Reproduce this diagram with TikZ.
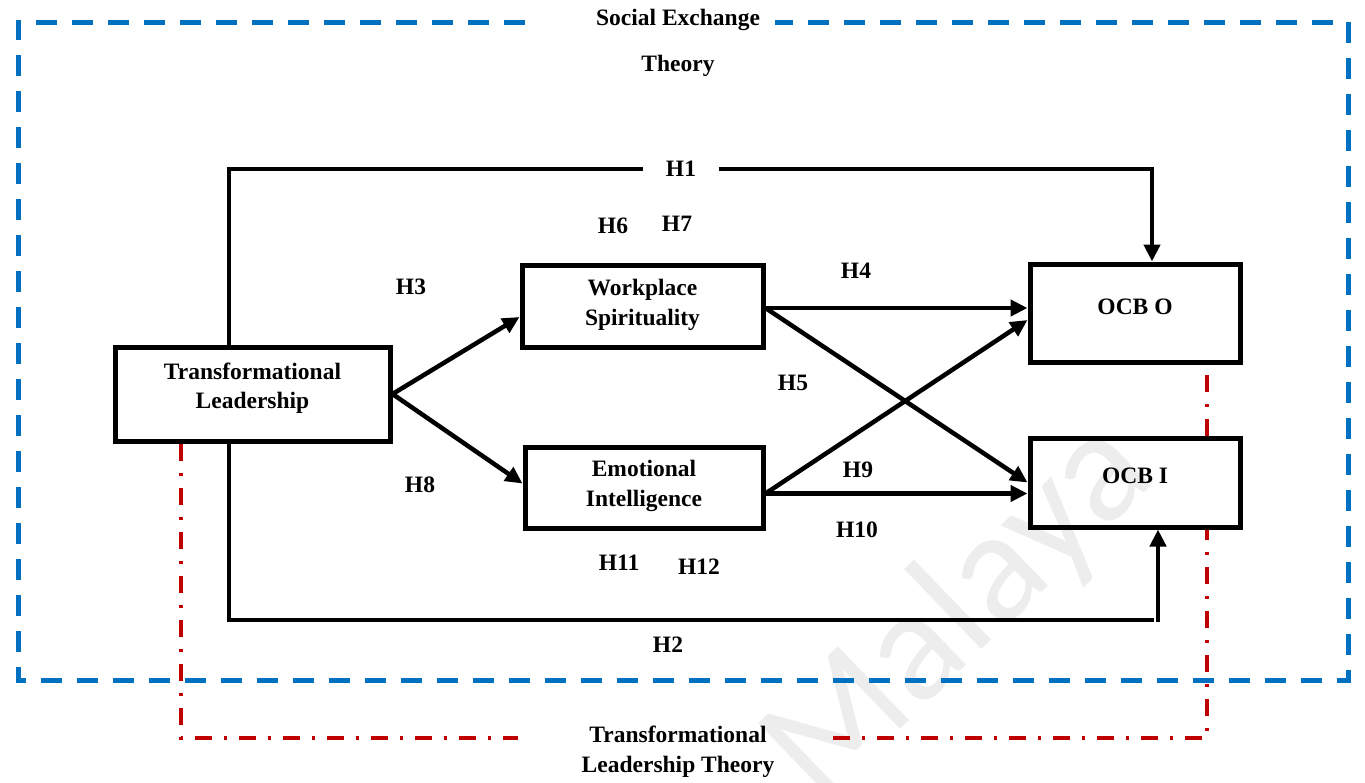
\documentclass[tikz,border=0pt]{standalone}
\usepackage{fontspec}
\setmainfont{Liberation Serif}
\newfontfamily\wmfont{Carlito}
\usetikzlibrary{arrows.meta}
\definecolor{sebblue}{HTML}{0070C0}
\definecolor{tlred}{HTML}{C00000}
\begin{document}
\begin{tikzpicture}[x=1pt,y=-1pt,
  every node/.style={font=\fontsize{23.5}{29.5}\selectfont\bfseries},
  varbox/.style={draw, line width=5pt, inner sep=0pt},
  link/.style={line width=4.5pt},
  arrowlink/.style={link, -{Triangle[length=17pt,width=16pt]}},
  hyp/.style={inner sep=0pt},
  setheory/.style={draw=sebblue, line width=5pt, dash pattern=on 21pt off 15pt},
  tltheory/.style={draw=tlred, line width=4pt, dash pattern=on 17pt off 12pt on 3pt off 12pt},
]
\useasboundingbox (0,0) rectangle (1365,782);

% faint background mark
\node[rotate=44, text=black!7, inner sep=0pt, font=\fontsize{160}{160}\selectfont\wmfont] (wm) at (960,612) {Malaya};

% Social Exchange Theory frame
\node (se1) at (678,20) {Social Exchange};
\node (se2) at (678,66) {Theory};
\coordinate (bf1) at (525,22);
\coordinate (bf2) at (18,22);
\coordinate (bf3) at (18,680);
\coordinate (bf4) at (1348,680);
\coordinate (bf5) at (1348,22);
\coordinate (bf6) at (775,22);
\draw[setheory] (bf1) -- (bf2) -- (bf3) -- (bf4) -- (bf5) -- (bf6);

% variables
\node[varbox, minimum width=275pt, minimum height=94pt] (tl) at (252.5,394) {};
\node[align=center] (tltext) at (252.5,388) {Transformational\\Leadership};
\node[varbox, minimum width=241pt, minimum height=82pt] (ws) at (642.5,306) {};
\node[align=center] (wstext) at (642.5,305) {Workplace\\Spirituality};
\node[varbox, minimum width=238pt, minimum height=81pt] (ei) at (644,487.5) {};
\node[align=center] (eitext) at (644,486) {Emotional\\Intelligence};
\node[varbox, minimum width=210pt, minimum height=98pt] (oo) at (1135,313) {};
\node (ootext) at (1135,307) {OCB O};
\node[varbox, minimum width=210pt, minimum height=89pt] (oi) at (1135,482.5) {};
\node (oitext) at (1135,476) {OCB I};

% Transformational Leadership Theory frame
\node[align=center, inner sep=0pt] (tlt) at (678,752) {Transformational\\Leadership Theory};
\coordinate (rl) at (181,738);
\coordinate (rla) at (518,738);
\coordinate (rrb) at (833,738);
\coordinate (rr) at (1207,738);
\draw[tltheory] (tl.south -| rl) -- (rl) -- (rla);
\draw[tltheory] (rrb) -- (rr) -- (oi.south -| rr);
\draw[tltheory] (oi.north -| rr) -- (oo.south -| rr);

% direct paths H1 and H2
\node[hyp, inner xsep=23pt] (h1) at (681,169) {H1};
\coordinate (h1l) at (229,169);
\coordinate (h1r) at (1152,169);
\draw[link] (tl.north -| h1l) |- (h1.west);
\draw[arrowlink] (h1.east) -| (h1r |- oo.north);
\coordinate (h2l) at (229,620);
\coordinate (h2r) at (1154,620);
\coordinate (h2up) at (1158,622);
\draw[link] (tl.south -| h2l) |- (h2r);
\draw[arrowlink] (h2up) -- (h2up |- oi.south);

% mediated paths
\draw[arrowlink] (tl.east) -- ([yshift=-11pt]ws.west);
\draw[arrowlink] (tl.east) -- ([yshift=4pt]ei.west);
\draw[arrowlink] ([yshift=-2pt]ws.east) -- ([yshift=-2pt]ws.east -| oo.west);
\draw[arrowlink] ([yshift=-2pt]ws.east) -- (oi.west);
\draw[arrowlink] ([yshift=-6pt]ei.east) -- ([yshift=-7pt]oo.west);
\draw[arrowlink] ([yshift=-6pt]ei.east) -- ([yshift=-6pt]ei.east -| oi.west);

% hypothesis labels
\node[hyp] (h2) at (668,645) {H2};
\node[hyp] (h3) at (411,287) {H3};
\node[hyp] (h4) at (856,271) {H4};
\node[hyp] (h5) at (793,383) {H5};
\node[hyp] (h6) at (613,226) {H6};
\node[hyp] (h7) at (677,224) {H7};
\node[hyp] (h8) at (420,485) {H8};
\node[hyp] (h9) at (858,470) {H9};
\node[hyp] (h10) at (857,530) {H10};
\node[hyp] (h11) at (619,563) {H11};
\node[hyp] (h12) at (699,567) {H12};
\end{tikzpicture}
\end{document}
